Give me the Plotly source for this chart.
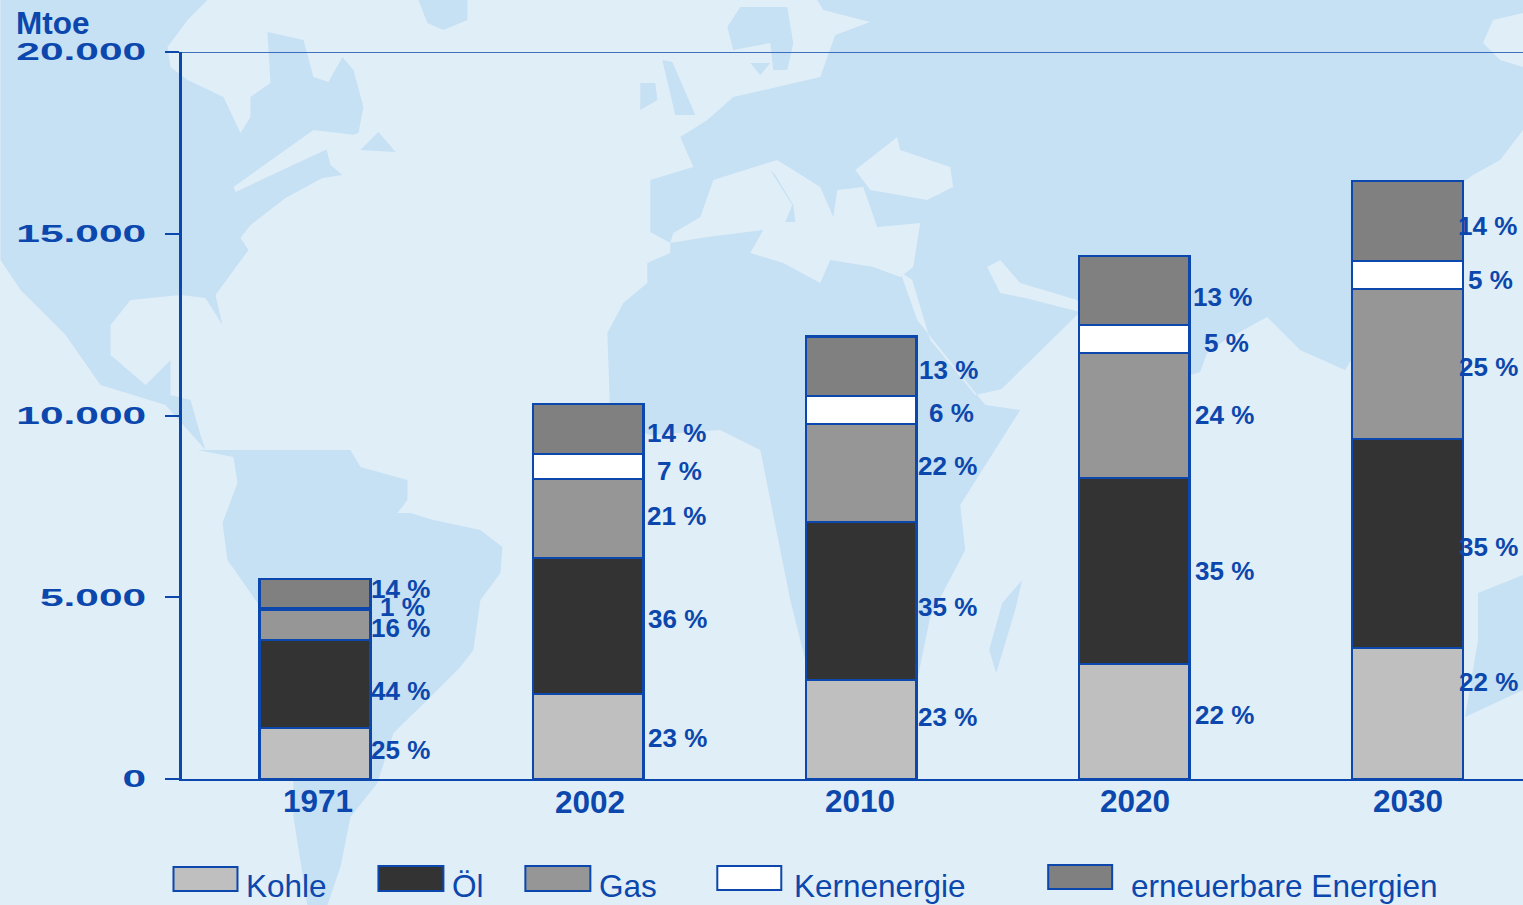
import plotly.graph_objects as go

# ---------- data ----------
years = ["1971", "2002", "2010", "2020", "2030"]
kohle = [1400, 2340, 2720, 3160, 3600]
oel = [2420, 3740, 4345, 5115, 5750]
gas = [850, 2170, 2695, 3440, 4125]
kern = [40, 690, 770, 770, 770]
erneuerbar = [790, 1375, 1650, 1900, 2200]
series_names = ["Kohle", "Öl", "Gas", "Kernenergie", "erneuerbare Energien"]
series_colors = ["#BFBFBF", "#333333", "#969696", "#FFFFFF", "#808080"]
y_ticks = [0, 5000, 10000, 15000, 20000]
y_tick_labels = ["0", "5.000", "10.000", "15.000", "20.000"]

pct_1971 = ["25 %", "44 %", "16 %", "1 %", "14 %"]
pct_2002 = ["23 %", "36 %", "21 %", "7 %", "14 %"]
pct_2010 = ["23 %", "35 %", "22 %", "6 %", "13 %"]
pct_2020 = ["22 %", "35 %", "24 %", "5 %", "13 %"]
pct_2030 = ["22 %", "35 %", "25 %", "5 %", "14 %"]

# ---------- layout constants (pixels of the 1523x905 page) ----------
W, H = 1523, 905
L, R, T, B = 181.5, 1523, 52, 779
BLUE = "#0B47AC"
SEA = "#E0EEF8"
LAND = "#C6E0F4"
FONT = "Liberation Sans"

def px(x):
    return (x - L) / (R - L)

def py(y):
    return (B - y) / (B - T)

def poly(points, color):
    d = "M" + " L".join(f"{px(x):.5f},{py(y):.5f}" for x, y in points) + " Z"
    return dict(type="path", path=d, xref="paper", yref="paper",
                fillcolor=color, line=dict(width=0), layer="below")

land = [
    # North and Central America
    [(0, 0), (207, 0), (187, 20), (167, 47), (170, 67), (187, 80), (223, 97), (240, 133),
     (250, 117), (250, 97), (270, 83), (267, 32), (303, 40), (313, 77), (328, 82), (342, 57),
     (353, 70), (363, 107), (358, 133), (325, 145), (330, 165), (342, 175), (322, 178),
     (285, 198), (250, 225), (240, 238), (248, 250), (215, 295), (222, 325), (205, 298),
     (180, 295), (130, 300), (110, 325), (110, 355), (145, 385), (170, 360), (170, 395),
     (190, 400), (200, 435), (205, 450), (165, 405), (100, 385), (65, 335), (20, 290), (0, 260)],
    # Newfoundland, Greenland
    [(360, 150), (378, 132), (395, 152)],
    [(418, 0), (467, 0), (467, 20), (443, 30), (427, 23)],
    # South America
    [(197, 450), (350, 450), (360, 467), (407, 480), (407, 500), (397, 513), (410, 513),
     (433, 520), (480, 530), (502, 547), (500, 573), (480, 600), (473, 650), (460, 667),
     (427, 700), (393, 733), (377, 783), (350, 817), (340, 867), (327, 905), (307, 905),
     (293, 817), (293, 783), (267, 617), (227, 560), (222, 523), (237, 483), (233, 457)],
    # Eurasia and Africa
    [(817, 0), (1523, 0), (1523, 13), (1493, 20), (1483, 43), (1500, 60), (1523, 67),
     (1523, 130), (1500, 160), (1473, 175), (1463, 182), (1345, 370), (1300, 350), (1267, 317),
     (1225, 340), (1207, 353), (1200, 372), (1190, 375), (1080, 312), (985, 405), (1020, 410),
     (960, 505), (965, 550), (930, 617), (917, 680), (810, 680), (790, 600), (760, 450),
     (720, 430), (650, 435), (610, 420), (607, 333), (623, 303), (647, 283), (647, 263),
     (670, 253), (670, 243), (650, 232), (650, 180), (693, 167), (680, 137), (707, 120),
     (733, 97), (820, 77), (835, 35), (870, 22), (823, 10)],
    # Scandinavia, Britain, Ireland, Denmark
    [(727, 27), (740, 7), (787, 7), (793, 43), (787, 70), (773, 70), (770, 43), (733, 50)],
    [(640, 83), (655, 83), (657, 100), (640, 110)],
    [(662, 60), (672, 62), (695, 115), (675, 115)],
    [(750, 63), (770, 63), (760, 75)],
    # Madagascar
    [(1022, 580), (1015, 610), (996, 673), (989, 650), (1002, 603)],
    # Australia
    [(1465, 717), (1523, 690), (1523, 575), (1478, 593), (1478, 640)],
]
water = [
    # Great Lakes band
    [(233, 187), (313, 130), (355, 135), (325, 150), (235, 192)],
    # Mediterranean
    [(673, 233), (700, 217), (713, 180), (767, 163), (777, 160), (820, 187), (833, 217),
     (837, 190), (863, 187), (877, 227), (920, 223), (913, 267), (900, 277), (873, 267),
     (830, 260), (820, 283), (783, 263), (750, 253), (763, 230), (707, 237), (670, 243)],
    # Black Sea
    [(855, 170), (897, 137), (900, 150), (950, 167), (953, 187), (927, 200), (870, 190)],
    # Red Sea
    [(900, 272), (912, 280), (930, 340), (975, 395), (1020, 385), (985, 405), (917, 320)],
    # Persian Gulf
    [(987, 267), (1000, 260), (1020, 283), (1077, 300), (1080, 312), (1025, 298), (1000, 293)],
]
italy = [(770, 170), (775, 175), (793, 205), (795, 222), (785, 222), (792, 205)]

shapes = [poly(p, LAND) for p in land] + [poly(p, SEA) for p in water] + [poly(italy, LAND)]

# Top grid line
shapes.append(dict(type="line", xref="paper", yref="y", x0=px(166), x1=1, y0=20000, y1=20000,
                   line=dict(color=BLUE, width=1.6), layer="above"))

# Legend swatches
swatches = [(173, 237, 867, 891), (378, 443, 866, 891), (525, 590, 866, 891),
            (717, 781, 866, 890), (1048, 1112, 865, 889)]
for (x0, x1, y0, y1), c in zip(swatches, series_colors):
    shapes.append(dict(type="rect", xref="paper", yref="paper",
                       x0=px(x0), x1=px(x1), y0=py(y1), y1=py(y0),
                       fillcolor=c, line=dict(color=BLUE, width=2), layer="above"))

annotations = []

def label(text, x, y, size, bold=True, anchor="center"):
    annotations.append(dict(text=f"<b>{text}</b>" if bold else text, xref="paper", yref="paper",
                            x=px(x), y=py(y), xanchor=anchor, yanchor="middle", showarrow=False,
                            font=dict(family=FONT, size=size, color=BLUE)))

label("Mtoe", 13, 23, 31.5, anchor="left")

legend_x = [244, 450, 597, 792, 1129]
for name, x in zip(series_names, legend_x):
    label(name, x, 886, 31.5, bold=False, anchor="left")

year_x = [318, 590, 860, 1135, 1408]
year_y = [801, 802, 801, 801, 801]
for name, x, y in zip(years, year_x, year_y):
    label(name, x, y, 31.5)

pct_all = [pct_1971, pct_2002, pct_2010, pct_2020, pct_2030]
pct_x = [[400, 400, 400, 402, 400], [677, 677, 676, 679, 676], [947, 947, 947, 951, 948],
         [1224, 1224, 1224, 1226, 1222], [1488, 1488, 1488, 1490, 1487]]
pct_y = [[750, 691, 628, 607, 589], [738, 619, 516, 471, 433], [717, 607, 466, 413, 370],
         [715, 571, 415, 343, 297], [682, 547, 367, 280, 226]]
for texts, xs, ys in zip(pct_all, pct_x, pct_y):
    for t, x, y in zip(texts, xs, ys):
        label(t, x, y, 26)

fig = go.Figure()
for name, vals, color in zip(series_names, [kohle, oel, gas, kern, erneuerbar], series_colors):
    fig.add_trace(go.Bar(x=years, y=vals, name=name, width=0.405, marker=dict(
        color=color, line=dict(color=BLUE, width=2.5))))

fig.update_layout(
    barmode="stack", width=W, height=H, showlegend=False,
    margin=dict(l=L, r=W - R, t=T, b=H - B, pad=0),
    paper_bgcolor=SEA, plot_bgcolor="rgba(0,0,0,0)",
    shapes=shapes, annotations=annotations,
    xaxis=dict(type="category", range=[(L - 314.5) / 273.25, (R - 314.5) / 273.25], showgrid=False,
               ticks="", showticklabels=False, showline=True, linecolor=BLUE, linewidth=2),
    yaxis=dict(range=[0, 20000], tickvals=y_ticks, ticktext=y_tick_labels, showgrid=False,
               showline=True, linecolor=BLUE, linewidth=3, ticks="outside", ticklen=14,
               tickwidth=2, tickcolor=BLUE, ticklabelstandoff=14, zeroline=False,
               tickfont=dict(family=FONT, size=24, color=BLUE, weight="bold")),
)

post = """
document.body.style.margin = '0';
document.querySelectorAll('.ytick text').forEach(function (t) {
  var n = t.getComputedTextLength();
  t.setAttribute('textLength', (n * 1.77).toFixed(1));
  t.setAttribute('lengthAdjust', 'spacingAndGlyphs');
});
"""
fig.write_html("out.html", post_script=post, config=dict(displayModeBar=False))
